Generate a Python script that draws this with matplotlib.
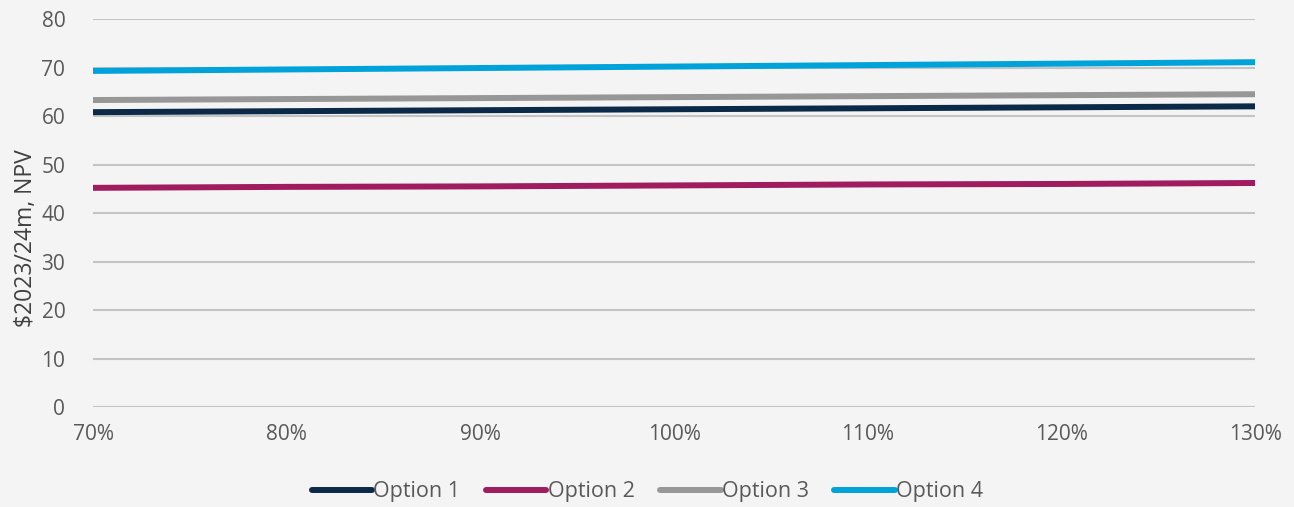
import numpy as np
import matplotlib.pyplot as plt

# sensitivity of NPV to scaling factor
x_pct = [70, 80, 90, 100, 110, 120, 130]
option_1 = [60.8, 61.0, 61.2, 61.4, 61.6, 61.8, 62.0]
option_2 = [45.2, 45.4, 45.5, 45.7, 45.9, 46.0, 46.2]
option_3 = [63.3, 63.5, 63.7, 63.9, 64.1, 64.3, 64.5]
option_4 = [69.3, 69.6, 69.9, 70.2, 70.5, 70.8, 71.1]
labels = ['Option 1', 'Option 2', 'Option 3', 'Option 4']
colores = ['#0b2a47', '#a01c5e', '#979797', '#00a3d9']

plt.rcParams['font.family'] = ['Open Sans', 'DejaVu Sans']

fig = plt.figure(figsize=(12.94, 5.07), dpi=100, facecolor='#f4f4f4')
ax = fig.add_axes([0.0719, 0.197, 0.8981, 0.7655])
ax.set_facecolor('none')

for serie, lab, c in zip([option_1, option_2, option_3, option_4], labels, colores):
    ax.plot(x_pct, serie, color=c, lw=4.3, solid_capstyle='round', label=lab, zorder=3)

ax.set_xlim(70, 130)
ax.set_ylim(0, 80)
ax.set_yticks(range(0, 81, 10))
ax.set_xticks(x_pct)
ax.set_xticklabels([f'{v}%' for v in x_pct])
ax.grid(axis='y', color='#c4c4c4', lw=1.5, zorder=1)
for s in ax.spines.values():
    s.set_visible(False)
ax.tick_params(length=0, colors='#595959', labelsize=15)
ax.tick_params(axis='y', pad=20)
ax.tick_params(axis='x', pad=12)
ax.set_ylabel('$2023/24m, NPV', fontsize=16.5, color='#404040')
ax.yaxis.set_label_coords(-0.047, 0.435)

leg = ax.legend(loc='center', bbox_to_anchor=(0.477, -0.218), ncol=4, frameon=False,
                fontsize=15.5, handlelength=2.8, handletextpad=0.05, columnspacing=1.2,
                labelcolor='#595959')

plt.savefig('out.png', dpi=100, facecolor=fig.get_facecolor())
